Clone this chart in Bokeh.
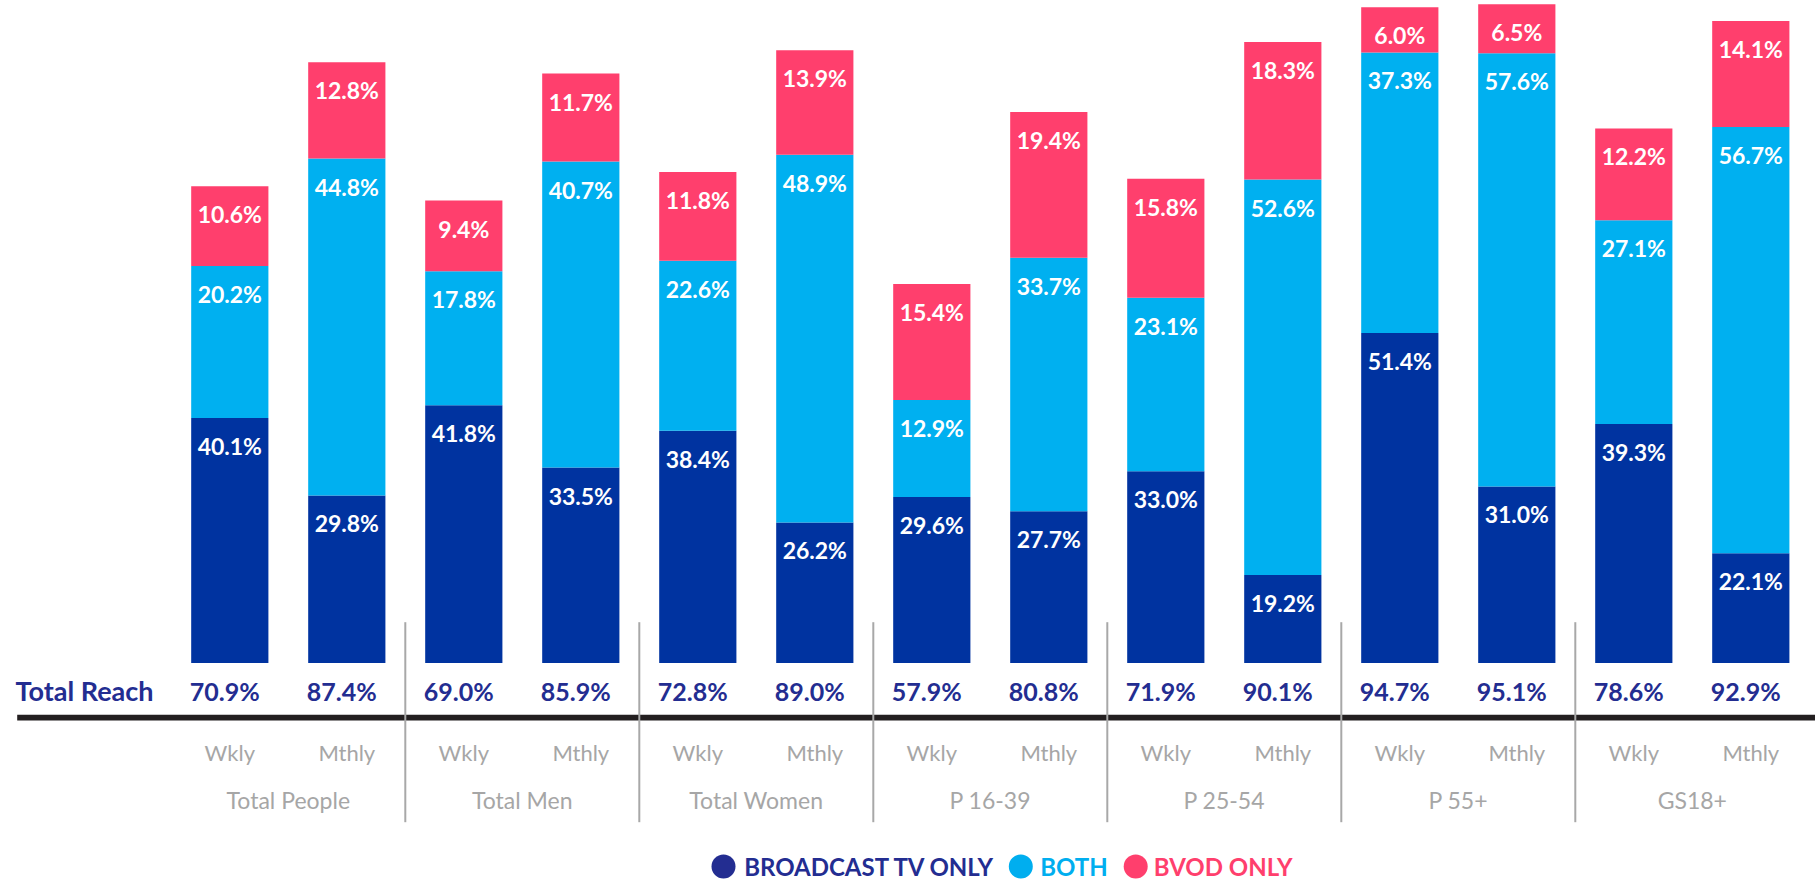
import numpy as np
from bokeh.plotting import figure
from bokeh.models import ColumnDataSource, Range1d, BoxAnnotation, Label
from bokeh.core.properties import value
from bokeh.embed import file_html
from bokeh.resources import INLINE

# ---------------- data ----------------
groups = ["Total People", "Total Men", "Total Women", "P 16-39", "P 25-54", "P 55+", "GS18+"]
periods = ["Wkly", "Mthly"]
broadcast_tv_only = [40.1, 29.8, 41.8, 33.5, 38.4, 26.2, 29.6, 27.7, 33.0, 19.2, 51.4, 31.0, 39.3, 22.1]
both = [20.2, 44.8, 17.8, 40.7, 22.6, 48.9, 12.9, 33.7, 23.1, 52.6, 37.3, 57.6, 27.1, 56.7]
bvod_only = [10.6, 12.8, 9.4, 11.7, 11.8, 13.9, 15.4, 19.4, 15.8, 18.3, 6.0, 6.5, 12.2, 14.1]
total_reach = [70.9, 87.4, 69.0, 85.9, 72.8, 89.0, 57.9, 80.8, 71.9, 90.1, 94.7, 95.1, 78.6, 92.9]
series_names = ["BROADCAST TV ONLY", "BOTH", "BVOD ONLY"]
row_title = "Total Reach"

# ---------------- style ----------------
BAR_COLORS = ["#0033A0", "#00B0F0", "#FF3F6D"]
LEGEND_COLORS = ["#232D91", "#00AEEF", "#FF3F6D"]
NAVY = "#232D91"
GRAY = "#A6A6A6"
FONT = "Lato"

W, H = 1815, 881
PX_X = 117.0          # px per bar slot
PX_Y = 7.52           # px per percentage point
BASE = 719.0          # baseline, px from top of figure
FIRST_BAR_PX = 229.3  # centre of first bar, px from left

x_start = -FIRST_BAR_PX / PX_X
x_end = x_start + W / PX_X
y_end = BASE / PX_Y
y_start = -(H - BASE) / PX_Y


def yp(py):
    """pixel row -> data y"""
    return (BASE - py) / PX_Y


def xp(px):
    """pixel column -> data x"""
    return x_start + px / PX_X


n = len(groups) * len(periods)
x = np.arange(n, dtype=float)
sub_labels = [p for g in groups for p in periods]
group_x = x.reshape(len(groups), len(periods)).mean(axis=1)
sep_x = (group_x[:-1] + group_x[1:]) / 2

b = np.array(broadcast_tv_only)
m = np.array(both)
v = np.array(bvod_only)

src = ColumnDataSource(dict(x=x, broadcast=b, both=m, bvod=v))

p = figure(width=W, height=H, x_range=Range1d(x_start, x_end), y_range=Range1d(y_start, y_end),
           x_axis_type=None, y_axis_type=None, toolbar_location=None, output_backend="svg",
           min_border=0, min_border_left=0, min_border_right=0, min_border_top=0, min_border_bottom=0)
p.outline_line_color = None
p.background_fill_color = "white"
p.border_fill_color = "white"
p.xgrid.visible = False
p.ygrid.visible = False

p.vbar_stack(["broadcast", "both", "bvod"], x="x", width=0.66, color=BAR_COLORS,
             line_color=None, source=src)

# segment labels at the top of each segment
tops = np.concatenate([b, b + m, b + m + v])
vals = np.concatenate([b, m, v])
lab_src = ColumnDataSource(dict(x=np.tile(x, 3), y=tops, t=[f"{q:.1f}%" for q in vals]))
p.text(x="x", y="y", text="t", source=lab_src, text_align="center", text_baseline="middle",
       y_offset=28, text_color="white", text_font=value(FONT), text_font_style="bold",
       text_font_size="23px")

# white band that hosts the total reach row
p.add_layout(BoxAnnotation(bottom=-1, top=7.5, fill_color="white", fill_alpha=1.0,
                           line_color=None))
# heavy rule
p.add_layout(BoxAnnotation(left=16.7, left_units="screen", bottom=yp(720), top=yp(714.3),
                           fill_color="#231F20", fill_alpha=1.0, line_color=None))

p.add_layout(Label(x=15, x_units="screen", y=yp(690), text=row_title, text_font=FONT,
                   text_font_size="27px", text_font_style="bold", text_color=NAVY,
                   text_baseline="middle"))

# group separators
p.segment(x0=sep_x, y0=yp(621.7), x1=sep_x, y1=yp(821.7), line_color="#A8A8A8",
          line_width=2, level="overlay")

# total reach values
p.text(x=x, y=yp(690), text=[f"{q:.1f}%" for q in total_reach], text_align="center",
       text_baseline="middle", x_offset=-5, text_color=NAVY, text_font=value(FONT),
       text_font_style="bold", text_font_size="25px", level="overlay")

# category labels
p.text(x=x, y=yp(751.7), text=sub_labels, text_align="center", text_baseline="middle",
       text_color=GRAY, text_font=value(FONT), text_font_size="22px", level="overlay")
p.text(x=group_x, y=yp(799), text=groups, text_align="center", text_baseline="middle",
       text_color=GRAY, text_font=value(FONT), text_font_size="23px", level="overlay")

# legend: coloured dots and coloured labels
leg_dot_px = [723.0, 1020.3, 1135.2]
leg_txt_px = [743.7, 1039.7, 1153.3]
leg_y = yp(866)
p.scatter(x=[xp(q) for q in leg_dot_px], y=[leg_y] * 3, size=24, fill_color=LEGEND_COLORS,
          line_color=None, level="overlay")
p.text(x=[xp(q) for q in leg_txt_px], y=[leg_y] * 3, text=series_names, text_align="left",
       text_baseline="middle", text_color=LEGEND_COLORS, text_font=value(FONT),
       text_font_style="bold", text_font_size="24px", level="overlay")

open("out.html", "w").write(file_html(p, INLINE))
